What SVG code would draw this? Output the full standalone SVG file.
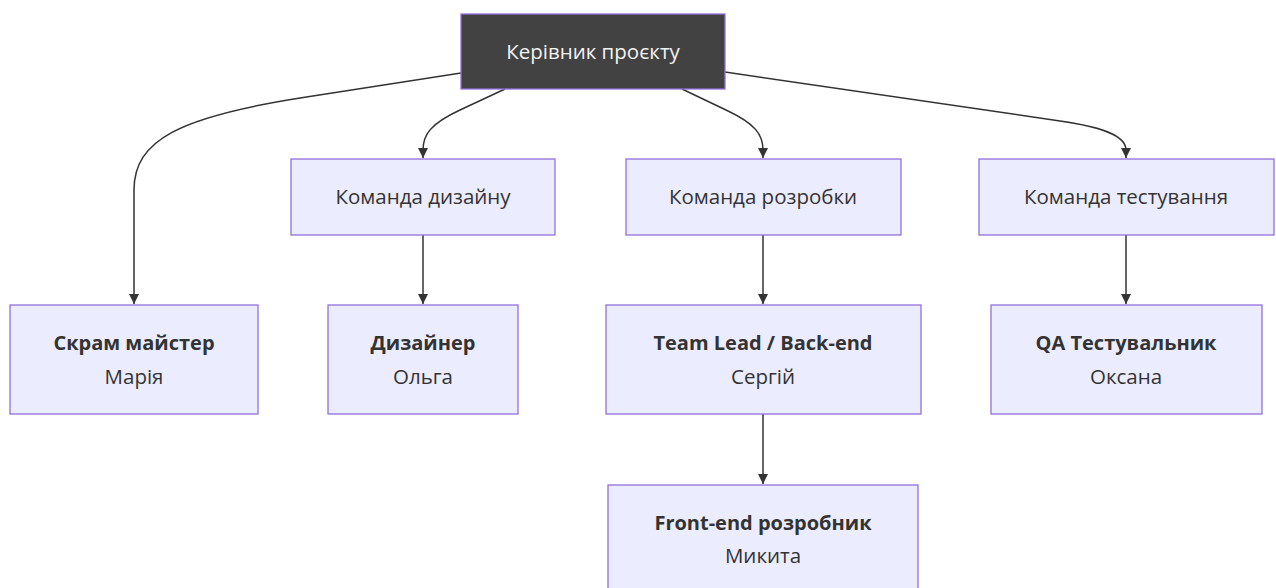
<svg xmlns="http://www.w3.org/2000/svg" width="1276" height="588" viewBox="0 0 1276 588">
  <style>
    .box { fill: #ECECFF; stroke: #9370DB; stroke-width: 1.3; }
    .dark { fill: #424242; stroke: #9370DB; stroke-width: 1.3; }
    .lbl { font-family: "Open Sans", "Noto Sans", "Liberation Sans", sans-serif; font-size: 20.5px; fill: #333; text-anchor: middle; dominant-baseline: central; }
    .b { font-weight: bold; font-size: 20px; }
    .w { fill: #f2f2f2; }
    .edge { fill: none; stroke: #333; stroke-width: 1.5; marker-end: url(#arrow); }
  </style>
  <defs>
    <marker id="arrow" viewBox="0 0 10 10" refX="10" refY="5" markerWidth="10" markerHeight="10" markerUnits="userSpaceOnUse" orient="auto">
      <path d="M0,0 L10,5 L0,10 z" fill="#333"/>
    </marker>
  </defs>

  <g id="connectors">
    <path class="edge" d="M461,73 L300,98 C180,117 134,140 134,190 L134,304"/>
    <path class="edge" d="M505,89 L460,110 C430,124 423,135 423,150 L423,158"/>
    <path class="edge" d="M682,89 L726,110 C756,124 763,135 763,150 L763,158"/>
    <path class="edge" d="M725,72 L1060,121 C1110,128 1126,138 1126,150 L1126,158"/>
    <path class="edge" d="M423,235 L423,304"/>
    <path class="edge" d="M763,235 L763,304"/>
    <path class="edge" d="M1126,235 L1126,304"/>
    <path class="edge" d="M763,414 L763,484"/>
  </g>

  <g id="pm">
    <rect class="dark" x="461" y="14" width="264" height="75"/>
    <text class="lbl w" x="593" y="51">Керівник проєкту</text>
  </g>
  <g id="design-team">
    <rect class="box" x="291" y="159" width="264" height="76"/>
    <text class="lbl" x="423" y="196">Команда дизайну</text>
  </g>
  <g id="dev-team">
    <rect class="box" x="626" y="159" width="275" height="76"/>
    <text class="lbl" x="763" y="196">Команда розробки</text>
  </g>
  <g id="qa-team">
    <rect class="box" x="979" y="159" width="295" height="76"/>
    <text class="lbl" x="1126" y="196">Команда тестування</text>
  </g>
  <g id="scrum">
    <rect class="box" x="10" y="305" width="248" height="109"/>
    <text class="lbl b" x="134" y="342">Скрам майстер</text>
    <text class="lbl" x="134" y="376">Марія</text>
  </g>
  <g id="designer">
    <rect class="box" x="328" y="305" width="190" height="109"/>
    <text class="lbl b" x="423" y="342">Дизайнер</text>
    <text class="lbl" x="423" y="376">Ольга</text>
  </g>
  <g id="lead">
    <rect class="box" x="606" y="305" width="315" height="109"/>
    <text class="lbl b" x="763" y="342">Team Lead / Back-end</text>
    <text class="lbl" x="763" y="376">Сергій</text>
  </g>
  <g id="qa">
    <rect class="box" x="991" y="305" width="271" height="109"/>
    <text class="lbl b" x="1126" y="342">QA Тестувальник</text>
    <text class="lbl" x="1126" y="376">Оксана</text>
  </g>
  <g id="frontend">
    <rect class="box" x="608" y="485" width="310" height="109"/>
    <text class="lbl b" x="763" y="522">Front-end розробник</text>
    <text class="lbl" x="763" y="555">Микита</text>
  </g>
</svg>
